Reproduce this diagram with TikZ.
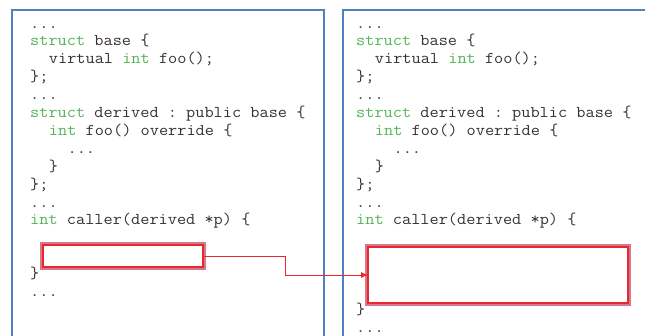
\documentclass[tikz,border=0pt]{standalone}
\usepackage{fontspec}
\setmonofont[FakeStretch=1.08]{Latin Modern Mono}
\usetikzlibrary{arrows.meta}
\usepackage{xcolor}
\definecolor{kwgreen}{RGB}{84,180,88}
\definecolor{codegray}{RGB}{58,48,48}
\definecolor{panelblue}{RGB}{79,129,189}
\definecolor{hlred}{RGB}{232,40,44}
\definecolor{hlglow}{RGB}{205,85,112}
\newcommand{\kw}[1]{\textcolor{kwgreen}{#1}}
\newcommand{\ind}[1]{\hspace*{#1}}

\tikzset{
  code/.style={anchor=base west, inner sep=0pt, text=codegray,
    font=\ttfamily\fontsize{16.5}{18}\selectfont},
  panel/.style={draw=panelblue, line width=1.1pt},
  hlbox/.style={draw=hlred, line width=1.4pt, fill=white, inner sep=0pt, outer sep=0pt,
    preaction={draw=hlglow, draw opacity=0.8, line width=6pt, rounded corners=2pt}},
  link/.style={draw=hlred, line width=0.8pt, -{Latex[length=7pt,width=6pt]}}
}

\begin{document}
\begin{tikzpicture}[x=1pt,y=-1pt]
    \def\lsp{17.9}
    \useasboundingbox (0,0) rectangle (645,335);

    % --- Panel frames (open at the bottom) ---
    \draw[panel] (12,336) -- (12,10) -- (324,10) -- (324,336);
    \draw[panel] (343,336) -- (343,10) -- (646,10);

    % --- Shared code lines of both panels ---
    \foreach \p/\x in {l/30, r/356}{
        \node[code] (\p0)  at (\x,28)             {...};
        \node[code] (\p1)  at (\x,{28+1*\lsp})    {\kw{struct} base \{};
        \node[code] (\p2)  at (\x,{28+2*\lsp})    {\ind{18.7pt}virtual \kw{int} foo();};
        \node[code] (\p3)  at (\x,{28+3*\lsp})    {\};};
        \node[code] (\p4)  at (\x,{28+4*\lsp})    {...};
        \node[code] (\p5)  at (\x,{28+5*\lsp})    {\kw{struct} derived : public base \{};
        \node[code] (\p6)  at (\x,{28+6*\lsp})    {\ind{18.7pt}\kw{int} foo() override \{};
        \node[code] (\p7)  at (\x,{28+7*\lsp})    {\ind{37.4pt}...};
        \node[code] (\p8)  at (\x,{28+8*\lsp})    {\ind{18.7pt}\}};
        \node[code] (\p9)  at (\x,{28+9*\lsp})    {\};};
        \node[code] (\p10) at (\x,{28+10*\lsp})   {...};
        \node[code] (\p11) at (\x,{28+11*\lsp})   {\kw{int} caller(derived *p) \{};
    }

    % --- Tail of the left panel ---
    \node[hlbox, minimum width=160pt, minimum height=22pt] (src) at (123,256) {};
    \node[code] (l14) at (30,{28+14*\lsp}) {\}};
    \node[code] (l15) at (30,{28+15*\lsp}) {...};

    % --- Tail of the right panel ---
    \node[hlbox, minimum width=260pt, minimum height=56pt] (dst) at (498,275) {};
    \node[code] (r16) at (356,{28+16*\lsp}) {\}};
    \node[code] (r17) at (356,{28+17*\lsp}) {...};

    % --- Link between the two boxes ---
    \draw[link] (src.east) -- ++(82,0) |- (dst.west);
\end{tikzpicture}
\end{document}
